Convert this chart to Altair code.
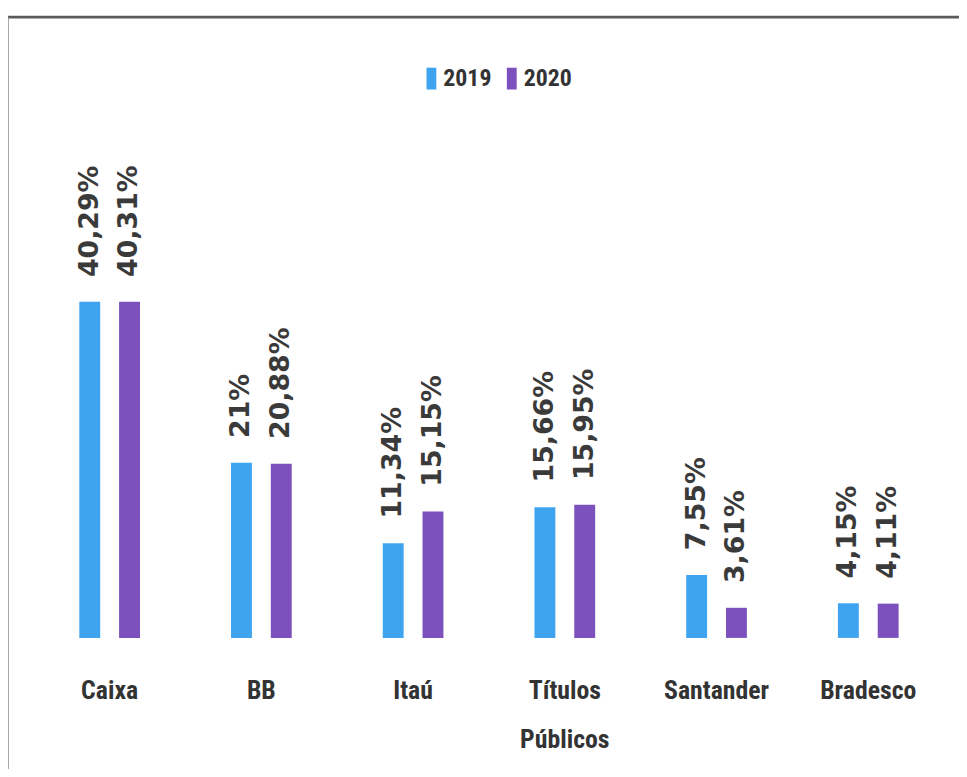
import altair as alt
import pandas as pd

categories = ["Caixa", "BB", "Itaú", "Títulos Públicos", "Santander", "Bradesco"]
values_2019 = [40.29, 21.0, 11.34, 15.66, 7.55, 4.15]
values_2020 = [40.31, 20.88, 15.15, 15.95, 3.61, 4.11]
years = ["2019", "2020"]
colors = ["#3FA4EF", "#7C50BD"]


def fmt(v):
    return f"{v:g}".replace(".", ",") + "%"


rows = []
for c, a, b in zip(categories, values_2019, values_2020):
    rows.append({"cat": c, "year": years[0], "val": a, "lbl": fmt(a)})
    rows.append({"cat": c, "year": years[1], "val": b, "lbl": fmt(b)})
df = pd.DataFrame(rows)

label_font = "Noto Sans Condensed, Roboto Condensed, Noto Sans ExtraCondensed, Lato, sans-serif"

x_enc = alt.X(
    "cat:N",
    sort=categories,
    title=None,
    scale=alt.Scale(paddingInner=0.6, paddingOuter=0.3),
    axis=alt.Axis(
        labelAngle=0,
        domain=False,
        ticks=False,
        labelFont=label_font,
        labelFontWeight="bold",
        labelFontSize=26,
        labelColor="#333333",
        labelPadding=40,
        labelBaseline="top",
        labelLineHeight=50,
        labelExpr="split(datum.label, ' ')",
    ),
)
xoff = alt.XOffset("year:N", sort=years, scale=alt.Scale(paddingInner=0.475))
y_enc = alt.Y("val:Q", axis=None, scale=alt.Scale(domain=[0, 64.2]))

base = alt.Chart(df)

bars = base.mark_bar().encode(
    x=x_enc,
    xOffset=xoff,
    y=y_enc,
    color=alt.Color(
        "year:N",
        sort=years,
        scale=alt.Scale(domain=years, range=colors),
        legend=alt.Legend(
            title=None,
            orient="none",
            direction="horizontal",
            legendX=389,
            legendY=-36,
            symbolType="M-0.45,-1H0.45V1H-0.45Z",
            symbolSize=484,
            symbolStrokeWidth=0,
            labelFont=label_font,
            labelFontWeight="bold",
            labelFontSize=24,
            labelColor="#333333",
            labelOffset=0,
            columnPadding=8,
        ),
    ),
)

texts = base.mark_text(
    angle=270,
    align="left",
    baseline="middle",
    dx=25,
    font="DejaVu Sans",
    fontWeight="bold",
    fontSize=27,
    color="#3a3a3a",
).encode(x=alt.X("cat:N", sort=categories), xOffset=xoff, y=y_enc, text="lbl:N")

frame_df = pd.DataFrame({"k": [0]})
top_line = alt.Chart(frame_df).mark_rule(color="#5a5a5a", strokeWidth=3).encode(
    x=alt.value(-26), x2=alt.value(960), y=alt.value(-86)
)
left_line = alt.Chart(frame_df).mark_rule(color="#8a8a8a", strokeWidth=1.5).encode(
    x=alt.value(-26), y=alt.value(-86), y2=alt.value(680)
)

chart = (
    alt.layer(bars, texts, top_line, left_line)
    .properties(
        width=918,
        height=540,
        autosize=alt.AutoSizeParams(type="none"),
        padding={"left": 26, "top": 92, "right": 15, "bottom": 129},
    )
    .configure_view(stroke=None)
)

chart.save("out.html", embed_options={"renderer": "svg", "actions": False})
